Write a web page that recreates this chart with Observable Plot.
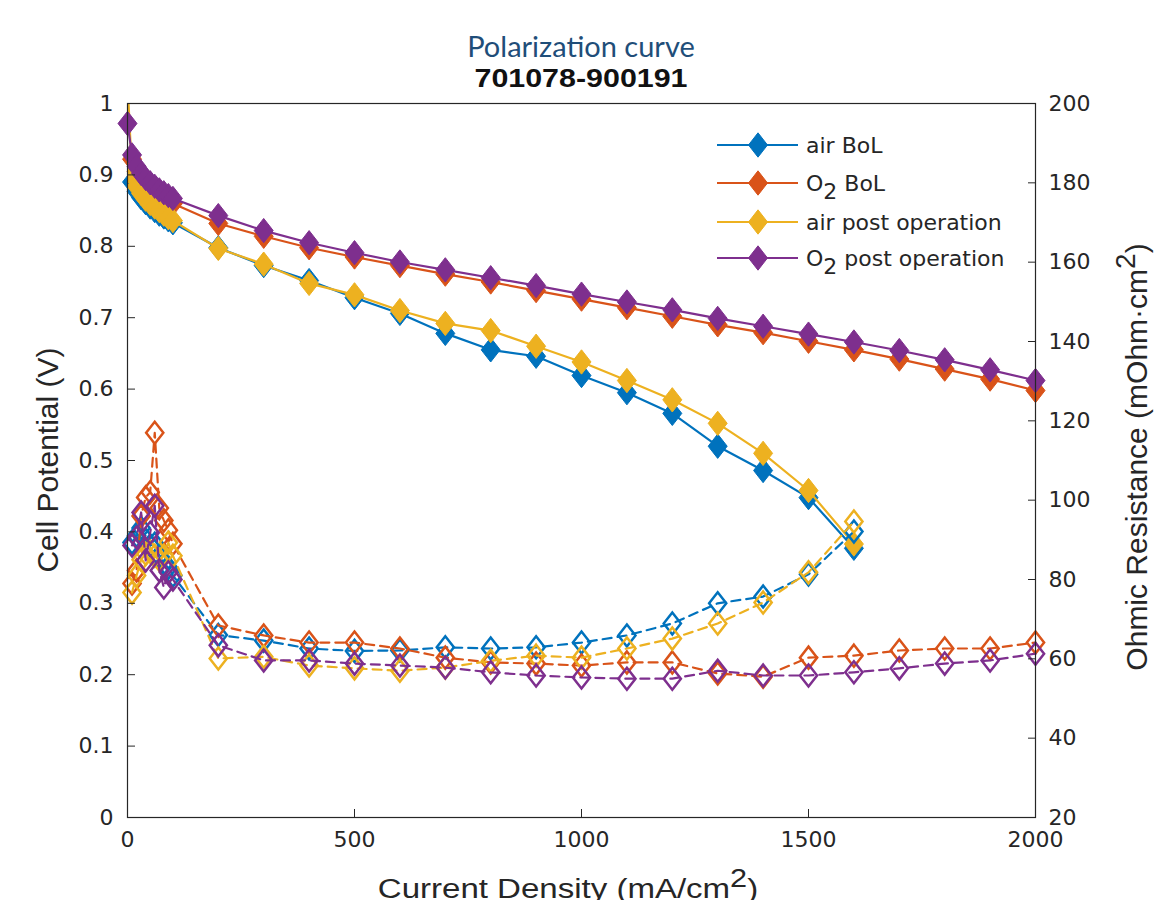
<!DOCTYPE html>
<html><head><meta charset="utf-8">
<script src="https://cdn.jsdelivr.net/npm/d3@7"></script>
<script src="https://cdn.jsdelivr.net/npm/@observablehq/plot@0.6"></script>
<style>
body{margin:0;background:#fff;}
#wrap{position:relative;width:1164px;height:900px;overflow:hidden;background:#fff;}
#head{position:absolute;left:0;top:0;}
#chart{position:absolute;left:0;top:95px;}
#legend{position:absolute;left:705px;top:125px;}
</style></head><body><div id="wrap"><div id="head"></div><div id="chart"></div><div id="legend"></div></div>
<script>
// ---- Data ----
const seriesNames = ["air BoL", "O2 BoL", "air post operation", "O2 post operation"];
const seriesColors = ["#0072BD", "#D95319", "#EDB120", "#7E2F8E"];
const xTicks = [0, 500, 1000, 1500, 2000];
const vTicks = [0, 0.1, 0.2, 0.3, 0.4, 0.5, 0.6, 0.7, 0.8, 0.9, 1];
const rTicks = [20, 40, 60, 80, 100, 120, 140, 160, 180, 200];

const currentLow = [10, 20, 30, 40, 50, 60, 70, 80, 90, 100];
const currentAir = [200, 300, 400, 500, 600, 700, 800, 900, 1000, 1100, 1200, 1300, 1400, 1500, 1600];
const currentO2 = [200, 300, 400, 500, 600, 700, 800, 900, 1000, 1100, 1200, 1300, 1400, 1500, 1600, 1700, 1800, 1900, 2000];

// Cell potential (V)
const airBoL_V = [0.89, 0.877, 0.868, 0.861, 0.855, 0.85, 0.845, 0.841, 0.837, 0.833,
  0.798, 0.773, 0.752, 0.728, 0.706, 0.678, 0.655, 0.646, 0.619, 0.595, 0.566, 0.52, 0.486, 0.448, 0.377];
const o2BoL_V = [0.922, 0.905, 0.895, 0.888, 0.882, 0.877, 0.872, 0.868, 0.864, 0.86,
  0.832, 0.814, 0.798, 0.785, 0.773, 0.761, 0.75, 0.738, 0.726, 0.714, 0.702, 0.69, 0.679, 0.667, 0.655, 0.642, 0.628, 0.614, 0.598];
const airPost_V = [1.03, 0.9, 0.884, 0.874, 0.866, 0.86, 0.855, 0.85, 0.845, 0.84, 0.836,
  0.797, 0.775, 0.748, 0.732, 0.71, 0.692, 0.682, 0.66, 0.638, 0.612, 0.585, 0.552, 0.51, 0.458, 0.383];
const o2Post_V = [0.972, 0.928, 0.912, 0.902, 0.895, 0.889, 0.884, 0.879, 0.875, 0.871, 0.867,
  0.843, 0.822, 0.805, 0.791, 0.778, 0.767, 0.756, 0.745, 0.733, 0.722, 0.711, 0.699, 0.688, 0.677, 0.666, 0.654, 0.641, 0.627, 0.612];

// Ohmic resistance (mOhm·cm²)
const airBoL_R = [89.3, 91, 93, 90, 88.6, 89, 86, 84, 83, 81,
  66, 64.6, 62.6, 62, 62.1, 62.9, 62.6, 62.9, 64.1, 65.9, 68.9, 74, 75.7, 81.3, 92.1];
const o2BoL_R = [79, 82.3, 96, 100.7, 102, 117, 98, 94.9, 92.4, 89,
  68.4, 65.9, 64.1, 64.1, 62.6, 60.3, 59.1, 58.8, 58.3, 59.1, 59.1, 56.3, 55.5, 60.3, 60.8, 62.1, 62.6, 62.6, 64.1];
const airPost_R = [76.7, 81, 85, 86.5, 87, 86, 85, 86, 89.3, 86,
  60.1, 60.5, 58.3, 57.6, 57, 57.8, 59.5, 60.8, 60.3, 62.6, 65.1, 68.9, 74.2, 81.8, 94.6];
const o2Post_R = [88.6, 90.6, 96.9, 84.8, 91.8, 98.6, 82.3, 78, 81.8, 80,
  63.4, 59.6, 59.6, 58.8, 58.3, 57.8, 56.6, 55.8, 55.3, 55, 55, 57, 55.8, 55.8, 56.6, 57.6, 58.8, 59.6, 61.3];

// ---- Tables built from the arrays ----
const vCurrents = [
  [...currentLow, ...currentAir],
  [...currentLow, ...currentO2],
  [0, ...currentLow, ...currentAir],
  [0, ...currentLow, ...currentO2]
];
const rCurrents = [
  [...currentLow, ...currentAir],
  [...currentLow, ...currentO2],
  [...currentLow, ...currentAir],
  [...currentLow, ...currentO2]
];
const vValues = [airBoL_V, o2BoL_V, airPost_V, o2Post_V];
const rValues = [airBoL_R, o2BoL_R, airPost_R, o2Post_R];
const R0 = 20, R1 = 200;
const toLeft = r => (r - R0) / (R1 - R0);

const vData = vValues.map((vals, s) => vals.map((v, i) => ({s, I: vCurrents[s][i], V: v})));
const rData = rValues.map((vals, s) => vals.map((r, i) => ({s, I: rCurrents[s][i], R: r})));

const diamond = {
  draw(ctx, size) {
    const r = Math.sqrt(size / Math.PI);
    const w = r, h = r * 1.28;
    ctx.moveTo(0, -h); ctx.lineTo(w, 0); ctx.lineTo(0, h); ctx.lineTo(-w, 0); ctx.closePath();
  }
};

const ink = "#262626";
const marks = [];
for (let s = 0; s < 4; s++) {
  const c = seriesColors[s];
  const clip = s === 2; // the air post-operation OCV point lies above the axes
  marks.push(Plot.line(vData[s], {x: "I", y: "V", stroke: c, strokeWidth: 2.2, clip}));
  marks.push(Plot.dot(vData[s], {x: "I", y: "V", symbol: diamond, r: 9.5, fill: c, stroke: c, strokeWidth: 1, clip}));
}
for (let s = 0; s < 4; s++) {
  const c = seriesColors[s];
  marks.push(Plot.line(rData[s], {x: "I", y: d => toLeft(d.R), stroke: c, strokeWidth: 2.2, strokeDasharray: "9,6"}));
  marks.push(Plot.dot(rData[s], {x: "I", y: d => toLeft(d.R), symbol: diamond, r: 8.6, fill: "none", stroke: c, strokeWidth: 2.5}));
}

const plot = Plot.plot({
  width: 1164,
  height: 805,
  marginTop: 8,
  marginBottom: 83,
  marginLeft: 127,
  marginRight: 129,
  x: {domain: [0, 2000]},
  y: {domain: [0, 1]},
  style: {fontFamily: "DejaVu Sans", fontSize: "22px", color: ink, background: "transparent", overflow: "visible"},
  marks: [
    ...marks,
    Plot.frame({stroke: ink, strokeWidth: 1.2}),
    Plot.axisX({ticks: xTicks, tickSize: -8, tickPadding: 22, label: null, tickFormat: d => String(d)}),
    Plot.axisY({ticks: vTicks, anchor: "left", tickSize: -8, tickPadding: 22, label: null, tickFormat: d => String(d)}),
    Plot.axisY({ticks: rTicks.map(toLeft), anchor: "right", tickSize: -8, tickPadding: 21, label: null,
      tickFormat: v => String(Math.round(R0 + v * (R1 - R0)))})
  ]
});
document.getElementById("chart").appendChild(plot);

// Axis titles with superscripts
const svg = d3.select(plot);
svg.append("text").attr("transform", "translate(58,365) rotate(-90)")
  .attr("text-anchor", "middle").attr("font-family", "Liberation Sans, Arial, sans-serif")
  .attr("font-size", 30).attr("fill", ink).text("Cell Potential (V)");
const rt = svg.append("text").attr("transform", "translate(1147,362) rotate(-90)")
  .attr("text-anchor", "middle").attr("font-family", "Liberation Sans, Arial, sans-serif")
  .attr("font-size", 30).attr("fill", ink);
rt.append("tspan").text("Ohmic Resistance (mOhm\u00B7cm");
rt.append("tspan").attr("dy", -12).attr("font-size", 28).text("2");
rt.append("tspan").attr("dy", 12).text(")");
const xt = svg.append("text").attr("transform", "translate(568,803) scale(1.18,1)")
  .attr("text-anchor", "middle").attr("font-family", "Liberation Sans, Arial, sans-serif")
  .attr("font-size", 28).attr("fill", ink);
xt.append("tspan").text("Current Density (mA/cm");
xt.append("tspan").attr("dy", -11).attr("font-size", 26).text("2");
xt.append("tspan").attr("dy", 11).text(")");

// Title / subtitle (above the chart)
const head = d3.select("#head").append("svg").attr("width", 1164).attr("height", 95);
head.append("text").attr("x", 581).attr("y", 57).attr("text-anchor", "middle")
  .attr("font-family", "Lato, 'Open Sans', sans-serif").attr("font-size", 29).attr("fill", "#1F4E79")
  .text("Polarization curve");
head.append("text").attr("transform", "translate(581,87) scale(1.17,1)").attr("text-anchor", "middle")
  .attr("font-family", "Liberation Sans, Arial, sans-serif").attr("font-weight", "bold").attr("font-size", 26)
  .attr("fill", "#111").text("701078-900191");

// Legend
const leg = d3.select("#legend").append("svg").attr("width", 330).attr("height", 175);
const rowY = [20, 58, 97, 133];
seriesNames.forEach((name, i) => {
  const g = leg.append("g").attr("transform", `translate(0,${rowY[i]})`);
  g.append("line").attr("x1", 12).attr("x2", 93).attr("y1", 0).attr("y2", 0)
    .attr("stroke", seriesColors[i]).attr("stroke-width", 2.2);
  const r = 9.5, h = r * 1.28;
  g.append("path").attr("d", `M53,${-h}L${53 + r},0L53,${h}L${53 - r},0Z`).attr("fill", seriesColors[i]).attr("stroke", seriesColors[i]);
  const t = g.append("text").attr("x", 101).attr("y", 8).attr("font-family", "DejaVu Sans").attr("font-size", 22).attr("fill", ink);
  if (name.startsWith("O2")) {
    t.append("tspan").text("O");
    t.append("tspan").attr("dy", 8).text("2");
    t.append("tspan").attr("dy", -8).text(name.slice(2));
  } else {
    t.text(name);
  }
});
</script>
</body></html>
